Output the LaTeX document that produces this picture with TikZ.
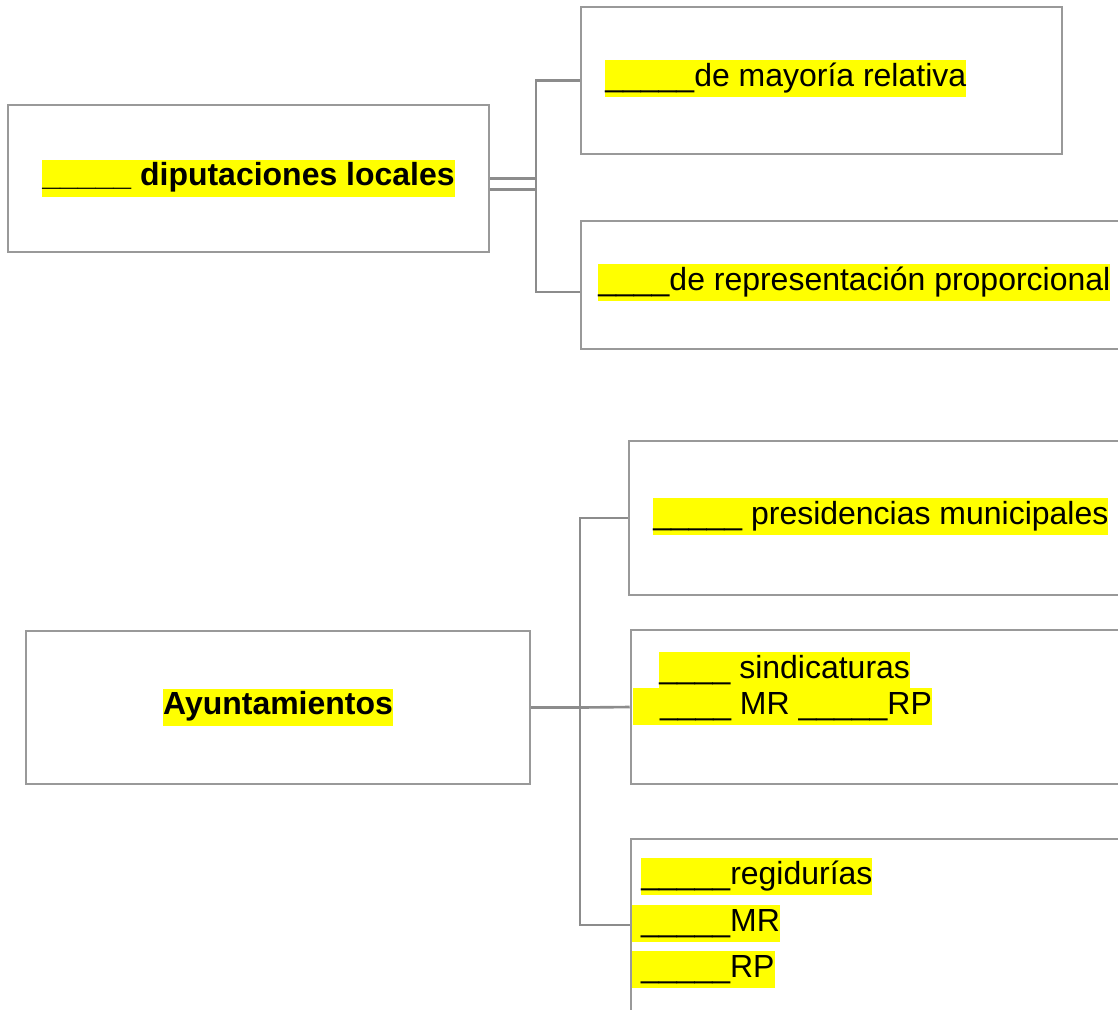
\documentclass[tikz,border=0pt]{standalone}
\usepackage{fontspec}
\setmainfont{Liberation Sans}
\definecolor{AmarilloResalte}{HTML}{FFFF00}
\definecolor{GrisCaja}{HTML}{999999}
\definecolor{GrisEnlace}{HTML}{8C8C8C}
\newcommand{\Resalta}[1]{{\setlength{\fboxsep}{0pt}\colorbox{AmarilloResalte}{\strut #1}}}
\newcommand{\Raya}{\_\_\_\_\_}
\tikzset{
	caja/.style={draw=GrisCaja, line width=1.5pt, inner sep=0pt},
	enlace/.style={draw=GrisEnlace, line width=1.5pt},
	texto/.style={inner sep=0pt, anchor=north west, font=\fontsize{18.2}{21}\selectfont},
	textoN/.style={inner sep=0pt, font=\fontsize{18.2}{21}\selectfont\bfseries}
}

\begin{document}
\begin{tikzpicture}[x=0.02cm, y=-0.02cm]
    \clip (0,0) rectangle (1118,1009);
    % Diputaciones
    \node[caja, minimum width=9.62cm, minimum height=2.94cm] (A) at (248.5,178.5) {};
    \node[caja, minimum width=9.62cm, minimum height=2.94cm] (B) at (821.5,80.5) {};
    \node[caja, minimum width=11.22cm, minimum height=2.56cm] (C) at (861.5,285) {};
    \node[textoN] (tA) at (A) {\Resalta{\Raya{} diputaciones locales}};
    \node[texto] (tB) at (605,60) {\Resalta{\Raya{}de mayoría relativa}};
    \node[texto] (tC) at (598,264) {\Resalta{\_\_\_\_de representación proporcional}};
    \coordinate (nA) at (536,178.5);
    \draw[enlace] (A.east) -- (nA);
    \draw[enlace] ([yshift=-0.22cm]A.east) -- ([yshift=-0.22cm]nA);
    \draw[enlace] (B.west) -| (nA) |- ([yshift=-0.14cm]C.west);
    
    % Ayuntamientos
    \node[caja, minimum width=10.08cm, minimum height=3.06cm] (D) at (278,707.5) {};
    \node[caja, minimum width=10.26cm, minimum height=3.08cm] (E) at (885.5,518) {};
    \node[caja, minimum width=10.22cm, minimum height=3.08cm] (F) at (886.5,707) {};
    \node[caja, minimum width=10.22cm, minimum height=3.44cm] (G) at (886.5,925) {};
    \node[textoN] (tD) at (D) {\Resalta{Ayuntamientos}};
    \node[texto] (tE) at (653,498) {\Resalta{\Raya{} presidencias municipales}};
    \node[texto] (tF1) at (659,652) {\Resalta{\_\_\_\_ sindicaturas}};
    \node[texto] (tF2) at (633,688) {\Resalta{\ \ \ \_\_\_\_ MR \Raya{}RP}};
    \node[texto] (tG1) at (641,858) {\Resalta{\Raya{}regidurías}};
    \node[texto] (tG2) at (632,905) {\Resalta{\ \Raya{}MR}};
    \node[texto] (tG3) at (632,951) {\Resalta{\ \Raya{}RP}};
    \coordinate (nD) at (580,707.5);
    \draw[enlace] (D.east) -- (nD);
    \draw[enlace] (E.west) -| (nD) |- (G.west);
    \draw[enlace] (nD) -- (F.west);
\end{tikzpicture}
\end{document}
